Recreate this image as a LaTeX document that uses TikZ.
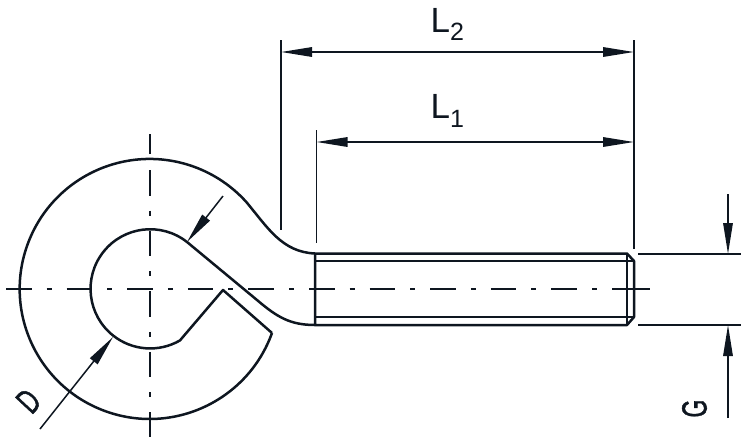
\documentclass[tikz,border=0pt]{standalone}
\usepackage{fontspec}
\setmainfont{Liberation Sans}
\newfontfamily\heavyletter[FakeBold=1.5]{Liberation Sans}
\usetikzlibrary{arrows.meta}

\definecolor{inkdark}{HTML}{0E1620}

\tikzset{
	contour/.style={draw=inkdark,line width=2.5pt,line join=round},
	thinline/.style={draw=inkdark,line width=1.5pt},
	centerline/.style={draw=inkdark,line width=1.5pt,dash pattern=on 25.6pt off 15pt on 5pt off 15pt},
	extline/.style={draw=inkdark,line width=1.7pt},
	dimline/.style={draw=inkdark,line width=1.6pt,{Triangle[length=31pt,width=9.5pt]}-{Triangle[length=31pt,width=9.5pt]}},
	leader/.style={draw=inkdark,line width=1.5pt,-{Triangle[length=31pt,width=9.5pt]}},
	dimlabel/.style={inner sep=0pt,text=inkdark,font=\fontsize{35}{35}\selectfont}
}

\newcommand{\subdigit}[2]{\raisebox{#1}{\fontsize{25}{25}\selectfont #2}}
\newcommand{\narrowletter}[1]{\scalebox{0.66}[1]{\heavyletter #1}}

\begin{document}
\begin{tikzpicture}[x=1pt,y=1pt]
	\useasboundingbox (0,0) rectangle (744,-437);

	%center lines
	\coordinate (hookTop) at (150,-134);
	\coordinate (hookTopEnd) at (150,-154);
	\coordinate (hookStart) at (150,-170);
	\coordinate (hookBottom) at (150,-437);
	\coordinate (axisLeft) at (6,-289);
	\coordinate (axisEnd) at (612,-289);
	\coordinate (axisRight) at (650,-289);
	\draw[centerline] (hookStart) -- (hookBottom);
	\draw[draw=inkdark,line width=1.5pt] (hookTop) -- (hookTopEnd);
	\draw[centerline] (axisLeft) -- (axisEnd);
	\draw[draw=inkdark,line width=1.5pt] (axisEnd) -- (axisRight);

	%hook
	\draw[contour] (272,-333) arc (-19.8:-318.1:130)
		.. controls (268,-228) and (282,-252) .. (315,-253.5);
	\draw[contour] (315,-325) .. controls (290,-325) and (277,-317) .. (257,-300)
		-- (187,-242) arc (51.8:300:59.6)
		-- (223,-290) -- (272,-333);

	%shank
	\draw[contour] (315,-253.5) -- (627,-253.5) -- (634,-261) -- (634,-317) -- (627,-325) -- (315,-325) -- cycle;
	\draw[thinline] (627,-253.5) -- (627,-325);
	\draw[thinline] (315,-261) -- (634,-261);
	\draw[thinline] (315,-317) -- (634,-317);

	%extension lines
	\coordinate (extTwoTop) at (281,-40);
	\coordinate (extTwoBottom) at (281,-230);
	\coordinate (extOneTop) at (316.5,-130);
	\coordinate (extOneBottom) at (316.5,-243);
	\coordinate (extEndTop) at (634,-40);
	\coordinate (extEndBottom) at (634,-249);
	\draw[extline] (extTwoTop) -- (extTwoBottom);
	\draw[extline] (extOneTop) -- (extOneBottom);
	\draw[extline] (extEndTop) -- (extEndBottom);

	%lengths
	\coordinate (twoLeft) at (281,-52);
	\coordinate (twoRight) at (634,-52);
	\coordinate (oneLeft) at (316.5,-142);
	\coordinate (oneRight) at (634,-142);
	\draw[dimline] (twoLeft) -- (twoRight);
	\draw[dimline] (oneLeft) -- (oneRight);
	\node[dimlabel,anchor=base west] (labelTwo) at (430.5,-32) {L\subdigit{-8pt}{2}};
	\node[dimlabel,anchor=base west] (labelOne) at (430.5,-118) {L\subdigit{-9pt}{1}};

	%thread diameter
	\coordinate (gTopLeft) at (638,-254);
	\coordinate (gTopRight) at (741,-254);
	\coordinate (gLowLeft) at (638,-325);
	\coordinate (gLowRight) at (741,-325);
	\coordinate (gTopStart) at (728,-194);
	\coordinate (gTopTip) at (728,-254);
	\coordinate (gLowStart) at (728,-418);
	\coordinate (gLowTip) at (728,-325);
	\draw[extline] (gTopLeft) -- (gTopRight);
	\draw[extline] (gLowLeft) -- (gLowRight);
	\draw[leader] (gTopStart) -- (gTopTip);
	\draw[leader] (gLowStart) -- (gLowTip);
	\node[dimlabel,rotate=90] (labelG) at (694.5,-408.5) {\narrowletter{G}};

	%eye diameter
	\coordinate (eyeTopStart) at (223,-196);
	\coordinate (eyeTopTip) at (187,-242);
	\coordinate (eyeLowStart) at (40,-429);
	\coordinate (eyeLowTip) at (113,-337);
	\draw[leader] (eyeTopStart) -- (eyeTopTip);
	\draw[leader] (eyeLowStart) -- (eyeLowTip);
	\node[dimlabel,rotate=47] (labelD) at (28.5,-401) {\narrowletter{D}};
\end{tikzpicture}
\end{document}
